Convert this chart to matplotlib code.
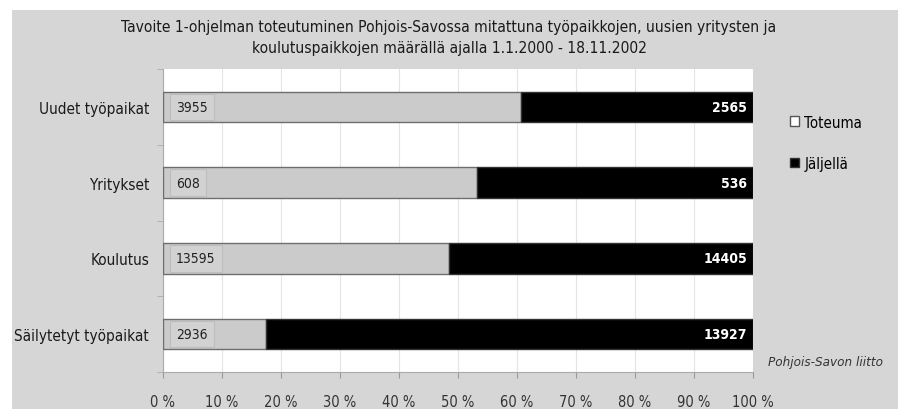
import matplotlib
matplotlib.use("Agg")
import matplotlib.pyplot as plt
from matplotlib.patches import Rectangle
import numpy as np

plt.rcParams['font.family'] = ['DejaVu Sans']
plt.rcParams['font.stretch'] = 'condensed'

categories = ["Uudet työpaikat", "Yritykset", "Koulutus", "Säilytetyt työpaikat"]
toteuma = [3955, 608, 13595, 2936]
jaljella = [2565, 536, 14405, 13927]
series_names = ["Toteuma", "Jäljellä"]
tick_labels = ["0 %", "10 %", "20 %", "30 %", "40 %", "50 %", "60 %", "70 %", "80 %", "90 %", "100 %"]
title = ("Tavoite 1-ohjelman toteutuminen Pohjois-Savossa mitattuna työpaikkojen, uusien yritysten ja\n"
         "koulutuspaikkojen määrällä ajalla 1.1.2000 - 18.11.2002")
source = "Pohjois-Savon liitto"

tot = np.array(toteuma, float)
jal = np.array(jaljella, float)
total = tot + jal
p_tot = tot / total * 100
p_jal = jal / total * 100

fig = plt.figure(figsize=(8.98, 4.10), dpi=100)
fig.patch.set_facecolor("white")
fig.patches.append(Rectangle((12/898, 0), 1 - 12/898, 1 - 11/410, transform=fig.transFigure,
                             facecolor="#d6d6d6", edgecolor="none", zorder=-10))

ax = fig.add_axes([163/898, 1 - 373/410, 590/898, 303/410])
ax.set_facecolor("white")
y = np.arange(len(categories))
ax.barh(y, p_tot, height=0.4, color="#cbcbcb", edgecolor="#6e6e6e", linewidth=1.0, label=series_names[0], zorder=3)
ax.barh(y, p_jal, left=p_tot, height=0.4, color="black", edgecolor="#333333", linewidth=1.0, label=series_names[1], zorder=3)

for i in range(len(categories)):
    ax.text(2.2, y[i], str(toteuma[i]), ha="left", va="center", fontsize=10, color="#222222", zorder=5,
            bbox=dict(boxstyle="square,pad=0.45", facecolor="#d2d2d2", edgecolor="#bdbdbd", linewidth=0.8))
    ax.text(99.0, y[i], str(jaljella[i]), ha="right", va="center", fontsize=10, color="white",
            fontweight="bold", zorder=5)

ax.set_xlim(0, 100)
ax.set_ylim(3.5, -0.5)
ax.set_xticks(np.arange(0, 101, 10))
ax.set_xticklabels(tick_labels, fontsize=10.5, color="#333333")
ax.tick_params(axis="x", length=4, color="#999999", pad=12)
ax.set_yticks(y)
ax.set_yticklabels(categories, fontsize=11, color="#1a1a1a")
ax.tick_params(axis="y", length=0, pad=10)
ax.set_yticks(np.arange(-0.5, 3.6, 1), minor=True)
ax.tick_params(axis="y", which="minor", length=4, color="#aaaaaa")
ax.grid(axis="x", color="#e4e4e4", linewidth=0.8, zorder=0)
for s in ["top", "right"]:
    ax.spines[s].set_visible(False)
ax.spines["left"].set_color("#aaaaaa")
ax.spines["bottom"].set_color("#aaaaaa")

fig.text(0.5, 1 - 38/410, title, ha="center", va="center", fontsize=11.2, color="#1a1a1a",
         linespacing=1.5)

leg = fig.legend(loc="upper left", bbox_to_anchor=(776/898, 1 - 102/410), frameon=False,
                 fontsize=10.8, handlelength=0.6, handleheight=0.6, labelspacing=1.75, handletextpad=0.4)
leg.legend_handles[0].set_facecolor("white")
leg.legend_handles[0].set_edgecolor("#555555")

fig.text(768/898, 1 - 363/410, source, ha="left", va="center", fontsize=9.6, style="italic", color="#333333")

fig.savefig("out.png", dpi=100)
